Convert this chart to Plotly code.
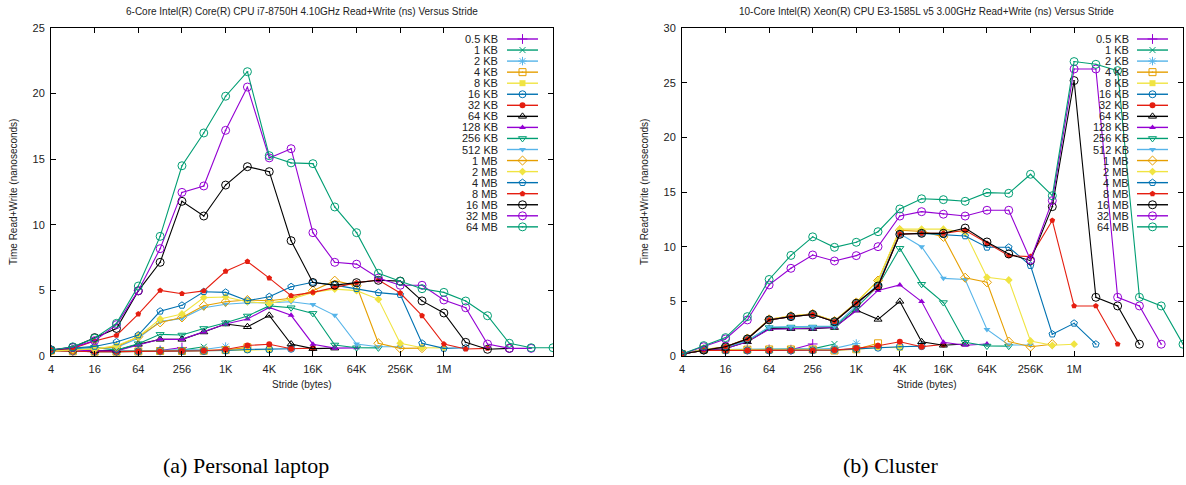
import plotly.graph_objects as go

# ---------------- data ----------------
STRIDES = [4 * 2 ** i for i in range(24)]  # 4 B ... 32 MB
SERIES_NAMES = ["0.5 KB", "1 KB", "2 KB", "4 KB", "8 KB", "16 KB", "32 KB", "64 KB",
                "128 KB", "256 KB", "512 KB", "1 MB", "2 MB", "4 MB", "8 MB", "16 MB",
                "32 MB", "64 MB"]
TICK_VALS = [4, 16, 64, 256, 1024, 4096, 16384, 65536, 262144, 1048576]
TICK_TEXT = ["4", "16", "64", "256", "1K", "4K", "16K", "64K", "256K", "1M"]

# Personal laptop (i7-8750H)
L_05KB = [0.45, 0.38, 0.35, 0.35, 0.38, 0.42, 0.65]
L_1KB = [0.45, 0.38, 0.35, 0.35, 0.38, 0.42, 0.45, 0.7]
L_2KB = [0.45, 0.38, 0.35, 0.35, 0.38, 0.42, 0.42, 0.5, 0.72]
L_4KB = [0.42, 0.36, 0.33, 0.33, 0.35, 0.38, 0.38, 0.4, 0.45, 0.66]
L_8KB = [0.42, 0.36, 0.33, 0.33, 0.35, 0.38, 0.38, 0.38, 0.4, 0.45, 0.5]
L_16KB = [0.42, 0.36, 0.33, 0.33, 0.35, 0.38, 0.38, 0.38, 0.42, 0.5, 0.5, 0.55]
L_32KB = [0.4, 0.35, 0.33, 0.33, 0.35, 0.35, 0.38, 0.4, 0.5, 0.8, 0.9, 0.55, 0.6]
L_64KB = [0.5, 0.45, 0.4, 0.43, 0.89, 1.27, 1.27, 1.83, 2.44, 2.23, 3.1, 0.91, 0.56, 0.6]
L_128KB = [0.45, 0.42, 0.4, 0.38, 0.84, 1.27, 1.27, 1.83, 2.44, 2.82, 3.7, 3.1, 0.9, 0.6, 0.62]
L_256KB = [0.46, 0.55, 0.66, 0.45, 0.94, 1.65, 1.6, 2.1, 2.54, 3.05, 3.82, 3.68, 3.25, 0.84,
           0.63, 0.62]
L_512KB = [0.38, 0.5, 0.55, 0.66, 1.35, 2.62, 2.87, 3.68, 3.94, 4.06, 4.06, 4.14, 3.92, 3.1,
           0.91, 0.71, 0.7]
L_1MB = [0.38, 0.46, 0.53, 0.7, 1.47, 2.56, 2.94, 3.83, 4.14, 4.27, 4.21, 4.4, 4.98, 5.74, 5.35,
         0.97, 0.58, 0.6]
L_2MB = [0.38, 0.46, 0.53, 0.79, 1.47, 2.82, 3.2, 4.45, 4.5, 4.14, 4.01, 4.32, 4.85, 5.1, 4.98,
         4.32, 0.97, 0.63, 0.62]
L_4MB = [0.46, 0.58, 0.73, 1.07, 1.6, 3.41, 3.86, 4.9, 4.85, 4.21, 4.52, 5.28, 5.62, 5.4, 5.13,
         4.83, 4.68, 0.97, 0.58, 0.63]
L_8MB = [0.46, 0.58, 1.14, 1.57, 3.2, 5.0, 4.75, 4.96, 6.46, 7.2, 5.94, 4.6, 4.85, 5.23, 5.59,
         5.79, 4.8, 3.07, 0.91, 0.53, 0.58]
L_16MB = [0.46, 0.66, 1.4, 2.1, 4.96, 7.14, 11.79, 10.67, 13.03, 14.43, 14.05, 8.79, 5.6, 5.4,
          5.59, 5.77, 5.71, 4.2, 3.28, 1.04, 0.51, 0.58]
L_32MB = [0.46, 0.66, 1.17, 2.39, 4.98, 8.18, 12.47, 12.96, 17.2, 20.5, 15.1, 15.8, 9.4, 7.14,
          7.0, 5.94, 5.39, 5.39, 4.27, 3.68, 0.91, 0.58, 0.58]
L_64MB = [0.46, 0.7, 1.35, 2.49, 5.33, 9.12, 14.5, 17.0, 19.8, 21.67, 15.27, 14.72, 14.66, 11.36,
          9.4, 6.3, 5.69, 5.13, 4.85, 4.19, 3.07, 0.97, 0.63, 0.63]

# Cluster (Xeon E3-1585L v5)
C_05KB = [0.18, 0.6, 0.6, 0.6, 0.6, 0.58, 1.1]
C_1KB = [0.18, 0.6, 0.6, 0.6, 0.6, 0.6, 0.65, 1.1]
C_2KB = [0.18, 0.6, 0.6, 0.6, 0.6, 0.6, 0.62, 0.7, 1.15]
C_4KB = [0.18, 0.58, 0.58, 0.58, 0.6, 0.6, 0.6, 0.5, 0.62, 1.16]
C_8KB = [0.18, 0.56, 0.56, 0.56, 0.58, 0.58, 0.58, 0.55, 0.6, 0.8, 0.75]
C_16KB = [0.18, 0.5, 0.5, 0.5, 0.5, 0.5, 0.52, 0.55, 0.65, 0.76, 0.85, 0.9]
C_32KB = [0.18, 0.5, 0.5, 0.5, 0.5, 0.5, 0.5, 0.55, 0.7, 0.94, 1.3, 0.85, 1.06]
C_64KB = [0.18, 0.55, 0.7, 1.3, 2.5, 2.5, 2.5, 2.6, 4.2, 3.35, 5.0, 1.3, 0.98, 1.1]
C_128KB = [0.18, 0.55, 0.7, 1.3, 2.45, 2.5, 2.5, 2.6, 4.14, 6.0, 6.5, 4.98, 1.25, 0.98, 1.1]
C_256KB = [0.18, 0.6, 0.8, 1.4, 2.6, 2.65, 2.65, 2.7, 4.4, 6.4, 9.85, 6.56, 4.89, 1.25, 0.91, 0.9]
C_512KB = [0.18, 0.6, 0.8, 1.4, 2.65, 2.7, 2.7, 2.75, 4.6, 6.6, 11.17, 10.0, 7.1, 7.0, 2.43, 1.0,
           1.0]
C_1MB = [0.18, 0.6, 0.85, 1.6, 3.35, 3.65, 3.85, 3.2, 4.9, 6.9, 11.5, 11.4, 10.9, 7.16, 6.74,
         1.32, 0.85, 1.08]
C_2MB = [0.18, 0.6, 0.85, 1.6, 3.35, 3.65, 3.85, 3.2, 4.9, 6.9, 11.6, 11.6, 11.6, 11.3, 7.2, 6.95,
         1.37, 0.98, 1.08]
C_4MB = [0.18, 0.55, 0.85, 1.56, 3.3, 3.6, 3.8, 3.14, 4.82, 6.4, 11.16, 11.22, 11.1, 10.98, 9.94,
         9.94, 8.27, 2.0, 2.99, 1.08]
C_8MB = [0.18, 0.55, 0.85, 1.56, 3.3, 3.6, 3.8, 3.14, 4.82, 6.35, 11.16, 11.22, 11.22, 11.5,
         10.3, 9.18, 9.09, 12.4, 4.58, 4.58, 1.08]
C_16MB = [0.18, 0.55, 0.85, 1.56, 3.3, 3.6, 3.8, 3.14, 4.82, 6.4, 11.13, 11.22, 11.22, 11.7,
          10.43, 9.33, 8.72, 13.66, 25.19, 5.37, 4.58, 1.08]
C_32MB = [0.18, 0.85, 1.56, 3.3, 6.5, 8.02, 9.24, 8.69, 9.18, 10.0, 12.8, 13.2, 12.97, 12.8,
          13.33, 13.33, 8.78, 14.21, 26.25, 26.25, 5.37, 4.58, 1.08]
C_64MB = [0.18, 0.95, 1.68, 3.6, 7.0, 9.2, 10.9, 9.94, 10.4, 11.37, 13.45, 14.38, 14.3, 14.15,
          14.94, 14.88, 16.62, 14.66, 26.93, 26.68, 26.1, 5.37, 4.58, 1.08]

LAPTOP = [L_05KB, L_1KB, L_2KB, L_4KB, L_8KB, L_16KB, L_32KB, L_64KB, L_128KB, L_256KB,
          L_512KB, L_1MB, L_2MB, L_4MB, L_8MB, L_16MB, L_32MB, L_64MB]
CLUSTER = [C_05KB, C_1KB, C_2KB, C_4KB, C_8KB, C_16KB, C_32KB, C_64KB, C_128KB, C_256KB,
           C_512KB, C_1MB, C_2MB, C_4MB, C_8MB, C_16MB, C_32MB, C_64MB]

TITLE_L = "6-Core Intel(R) Core(R) CPU i7-8750H 4.10GHz Read+Write (ns) Versus Stride"
TITLE_R = "10-Core Intel(R) Xeon(R) CPU E3-1585L v5 3.00GHz Read+Write (ns) Versus Stride"

# ---------------- styles ----------------
W, H = 1186, 485
BASE = ["#9400d3", "#009e73", "#56b4e9", "#e69f00", "#f0e442", "#0072b2", "#e51e10", "#000000"]
COLORS = [BASE[k % 8] for k in range(18)]
SYMBOLS = ["cross-thin-open", "x-thin-open", "asterisk-open", "square-open-dot", "square",
           "circle-open-dot", "circle", "triangle-up-open-dot", "triangle-up",
           "triangle-down-open-dot", "triangle-down", "diamond-open-dot", "diamond",
           "pentagon-open-dot", "pentagon", "circle-open-dot", "circle-open-dot",
           "circle-open-dot"]
MSIZE = [7, 6, 7, 7, 6, 7, 6, 7, 6, 7, 6, 7, 6, 7, 6, 8, 8, 8]
SANS = "Liberation Sans, Arial, sans-serif"


def marker(k):
    filled = "open" not in SYMBOLS[k]
    return dict(symbol=SYMBOLS[k], size=MSIZE[k], color=COLORS[k],
                line=dict(width=0 if filled else 1, color=COLORS[k]))


fig = go.Figure()

for data, xa, ya in ((LAPTOP, "x", "y"), (CLUSTER, "x2", "y2")):
    for k, vals in enumerate(data):
        fig.add_trace(go.Scatter(
            x=STRIDES[:len(vals)], y=vals, mode="lines+markers", name=SERIES_NAMES[k],
            line=dict(color=COLORS[k], width=1.1), marker=marker(k),
            xaxis=xa, yaxis=ya, showlegend=False))

# manual gnuplot-style key (text right, sample on the right) on a pixel overlay axis
LEG_TOP, LEG_STEP = 39, 11.05
for text_x, l0, l1 in ((500, 507, 538), (1131, 1137, 1168)):
    for k, name in enumerate(SERIES_NAMES):
        yy = LEG_TOP + k * LEG_STEP
        fig.add_trace(go.Scatter(x=[l0, l1], y=[yy, yy], mode="lines",
                                 line=dict(color=COLORS[k], width=1.4),
                                 xaxis="x3", yaxis="y3", showlegend=False,
                                 hoverinfo="skip"))
        fig.add_trace(go.Scatter(x=[(l0 + l1) / 2], y=[yy], mode="markers",
                                 marker=marker(k), xaxis="x3", yaxis="y3",
                                 showlegend=False, hoverinfo="skip"))
        fig.add_annotation(x=text_x / W, y=1 - yy / H, xref="paper", yref="paper",
                           text=name, showarrow=False, xanchor="right", yanchor="middle",
                           font=dict(family=SANS, size=11, color="#222"))

# plot-area pixel boxes
LX = (51, 553)
RX = (682, 1183)
PY = (28, 356)


def dom_x(px):
    return [px[0] / W, px[1] / W]


dom_y = [1 - PY[1] / H, 1 - PY[0] / H]

axis_common = dict(showline=True, linecolor="black", linewidth=1, mirror="allticks",
                   ticks="inside", ticklen=5, tickcolor="black", showgrid=False,
                   zeroline=False, automargin=False,
                   tickfont=dict(family=SANS, size=11, color="#222"))
xcommon = dict(axis_common, type="log", range=[0.60206, 7.52575], tickvals=TICK_VALS,
               ticktext=TICK_TEXT, ticklabelstandoff=3)

fig.update_layout(
    width=W, height=H, autosize=False, margin=dict(l=0, r=0, t=0, b=0, pad=0),
    paper_bgcolor="white", plot_bgcolor="rgba(0,0,0,0)",
    xaxis=dict(xcommon, domain=dom_x(LX), anchor="y"),
    yaxis=dict(axis_common, domain=dom_y, anchor="x", range=[0, 25], dtick=5,
               ticklabelstandoff=3),
    xaxis2=dict(xcommon, domain=dom_x(RX), anchor="y2"),
    yaxis2=dict(axis_common, domain=dom_y, anchor="x2", range=[0, 30], dtick=5,
                ticklabelstandoff=3),
    xaxis3=dict(domain=[0, 1], range=[0, W], visible=False, fixedrange=True, anchor="y3"),
    yaxis3=dict(domain=[0, 1], range=[H, 0], visible=False, fixedrange=True, anchor="x3"),
    showlegend=False,
)


def ann(x, y, text, size, family=SANS, angle=0, color="#222"):
    fig.add_annotation(x=x / W, y=1 - y / H, xref="paper", yref="paper", text=text,
                       showarrow=False, xanchor="center", yanchor="middle", textangle=angle,
                       font=dict(family=family, size=size, color=color))


ann(302, 11, TITLE_L, 10)
ann(926, 11, TITLE_R, 10)
ann(302, 384, "Stride (bytes)", 10)
ann(926, 384, "Stride (bytes)", 10)
ann(14, 192, "Time Read+Write (nanoseconds)", 10, angle=-90)
ann(645, 192, "Time Read+Write (nanoseconds)", 10, angle=-90)
ann(246, 465, "(a) Personal laptop", 22, family="Liberation Serif, Times New Roman, serif",
    color="black")
ann(890, 465, "(b) Cluster", 22, family="Liberation Serif, Times New Roman, serif",
    color="black")

fig.write_html("out.html", config={"responsive": False, "displayModeBar": False},
               post_script="document.body.style.margin='0';"
                           "document.body.style.overflow='hidden';")
